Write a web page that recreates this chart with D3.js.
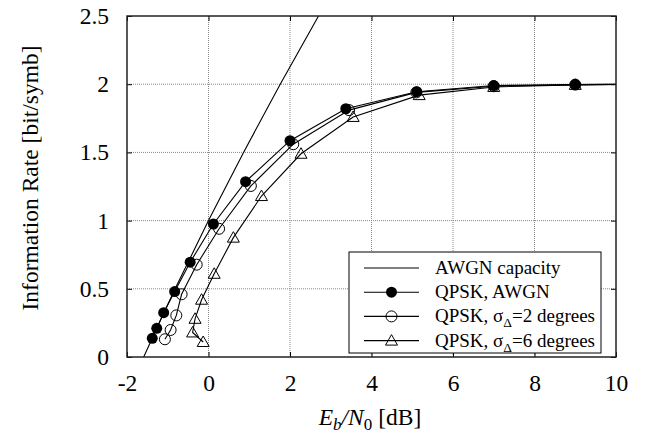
<!DOCTYPE html>
<html>
<head>
<meta charset="utf-8">
<script src="https://cdn.jsdelivr.net/npm/d3@7"></script>
<style>
    body { margin: 0; background: #fff; }
    svg { display: block; font-family: 'Liberation Serif', 'Times New Roman', serif; }
</style>
</head>
<body>
<div id="chart"></div>
<script>
// values
const capacityEb = [-1.59, -1.21, -0.82, -0.41, 0, 0.86, 1.76, 2.70];
const capacityRate = [0, 0.25, 0.5, 0.75, 1, 1.5, 2, 2.5];

const awgnEb = [-1.38, -1.27, -1.1, -0.83, -0.45, 0.12, 0.91, 2.0, 3.37, 5.11, 7.0, 9.0, 11];
const awgnRate = [0.137, 0.21, 0.325, 0.48, 0.695, 0.975, 1.285, 1.586, 1.82, 1.945, 1.99, 1.997, 2.0];

const sig2Eb = [-1.07, -0.93, -0.79, -0.66, -0.29, 0.26, 1.04, 2.08, 3.45, 5.1, 7.0, 9.0, 11];
const sig2Rate = [0.13, 0.198, 0.305, 0.46, 0.677, 0.94, 1.254, 1.56, 1.81, 1.94, 1.985, 1.997, 2.0];

const sig6Eb = [-0.13, -0.39, -0.33, -0.17, 0.14, 0.61, 1.3, 2.27, 3.55, 5.17, 7.0, 9.0, 11];
const sig6Rate = [0.11, 0.18, 0.28, 0.42, 0.61, 0.875, 1.18, 1.49, 1.76, 1.92, 1.98, 1.995, 2.0];

const xTicks = [-2, 0, 2, 4, 6, 8, 10];
const yTicks = [0, 0.5, 1, 1.5, 2, 2.5];

const width = 650;
const height = 433;
const margin = { top: 16, right: 34, bottom: 76, left: 127 };
const chartWidth = width - margin.left - margin.right;
const chartHeight = height - margin.top - margin.bottom;

const svg = d3.select('#chart').append('svg').attr('width', width).attr('height', height);
const chart = svg.append('g').attr('transform', `translate(${margin.left}, ${margin.top})`);

const xScale = d3.scaleLinear().domain([-2, 10]).range([0, chartWidth]);
const yScale = d3.scaleLinear().domain([0, 2.5]).range([chartHeight, 0]);

svg.append('defs').append('clipPath').attr('id', 'plot-clip')
    .append('rect').attr('width', chartWidth).attr('height', chartHeight);

// dotted grid
chart.append('g').selectAll('line').data(xTicks.slice(1, -1)).enter().append('line')
    .attr('x1', (d) => xScale(d)).attr('x2', (d) => xScale(d))
    .attr('y1', 0).attr('y2', chartHeight)
    .attr('stroke', '#888').attr('stroke-width', 1).attr('stroke-dasharray', '1,1');
chart.append('g').selectAll('line').data(yTicks.slice(1, -1)).enter().append('line')
    .attr('y1', (d) => yScale(d)).attr('y2', (d) => yScale(d))
    .attr('x1', 0).attr('x2', chartWidth)
    .attr('stroke', '#888').attr('stroke-width', 1).attr('stroke-dasharray', '1,1');

// axes, ticks pointing inward on all four sides
const tickFont = (g) => g.selectAll('text').attr('font-size', 23.5).attr('fill', '#000')
    .attr('font-family', "'Liberation Serif', serif");
const cleanAxis = (g) => g.select('.domain').remove();

chart.append('g').attr('transform', `translate(0, ${chartHeight})`)
    .call(d3.axisBottom(xScale).tickValues(xTicks).tickFormat((d) => String(d)).tickSizeInner(-5).tickPadding(17))
    .call(cleanAxis).call(tickFont);
chart.append('g')
    .call(d3.axisTop(xScale).tickValues(xTicks).tickFormat('').tickSizeInner(-5))
    .call(cleanAxis);
chart.append('g')
    .call(d3.axisLeft(yScale).tickValues(yTicks).tickFormat((d) => String(d)).tickSizeInner(-5).tickPadding(18))
    .call(cleanAxis).call(tickFont);
chart.append('g').attr('transform', `translate(${chartWidth}, 0)`)
    .call(d3.axisRight(yScale).tickValues(yTicks).tickFormat('').tickSizeInner(-5))
    .call(cleanAxis);

// curves
const plot = chart.append('g').attr('clip-path', 'url(#plot-clip)');
const line = d3.line().x((d) => xScale(d[0])).y((d) => yScale(d[1]));

const series = [
    { eb: capacityEb, rate: capacityRate, marker: null, label: ['AWGN capacity'] },
    { eb: awgnEb, rate: awgnRate, marker: 'filled', label: ['QPSK, AWGN'] },
    { eb: sig2Eb, rate: sig2Rate, marker: 'circle', label: ['QPSK, σ', 'Δ', '=2 degrees'] },
    { eb: sig6Eb, rate: sig6Rate, marker: 'triangle', label: ['QPSK, σ', 'Δ', '=6 degrees'] }
];

function drawMarker(g, type, x, y) {
    if (type === 'filled') {
        g.append('circle').attr('cx', x).attr('cy', y).attr('r', 5.5).attr('fill', '#000');
    } else if (type === 'circle') {
        g.append('circle').attr('cx', x).attr('cy', y).attr('r', 5.5)
            .attr('fill', 'none').attr('stroke', '#000').attr('stroke-width', 1);
    } else if (type === 'triangle') {
        g.append('path')
            .attr('d', `M${x},${y - 6}L${x + 6},${y + 4.5}L${x - 6},${y + 4.5}Z`)
            .attr('fill', 'none').attr('stroke', '#000').attr('stroke-width', 1);
    }
}

for (let s of series) {
    const pts = s.eb.map((e, i) => [e, s.rate[i]]);
    plot.append('path').datum(pts).attr('d', line)
        .attr('fill', 'none').attr('stroke', '#000').attr('stroke-width', 1.1);
    if (s.marker) {
        for (let p of pts) drawMarker(plot, s.marker, xScale(p[0]), yScale(p[1]));
    }
}

// frame
chart.append('rect').attr('width', chartWidth).attr('height', chartHeight)
    .attr('fill', 'none').attr('stroke', '#222').attr('stroke-width', 1.5);

// legend
const legend = chart.append('g').attr('transform', `translate(${349 - margin.left}, ${252 - margin.top})`);
legend.append('rect').attr('width', 252).attr('height', 101)
    .attr('fill', '#fff').attr('stroke', '#000').attr('stroke-width', 1);

series.forEach((s, i) => {
    const y = 16 + i * 24.2;
    legend.append('line').attr('x1', 15).attr('x2', 70).attr('y1', y).attr('y2', y)
        .attr('stroke', '#000').attr('stroke-width', 1.1);
    if (s.marker) drawMarker(legend, s.marker, 42.5, y);
    const t = legend.append('text').attr('x', 86).attr('y', y + 6).attr('font-size', 19);
    t.append('tspan').text(s.label[0]);
    if (s.label.length > 1) {
        t.append('tspan').attr('dy', 5).attr('font-size', 13.5).text(s.label[1]);
        t.append('tspan').attr('dy', -5).text(s.label[2]);
    }
});

// axis titles
const xTitle = svg.append('text').attr('x', 370).attr('y', 425).attr('text-anchor', 'middle').attr('font-size', 23.5);
xTitle.append('tspan').attr('font-style', 'italic').text('E');
xTitle.append('tspan').attr('font-style', 'italic').attr('font-size', 17).attr('dy', 5).text('b');
xTitle.append('tspan').attr('font-style', 'italic').attr('dy', -5).text('/N');
xTitle.append('tspan').attr('font-size', 17).attr('dy', 5).text('0');
xTitle.append('tspan').attr('dy', -5).text(' [dB]');

svg.append('text').attr('transform', 'translate(38, 178) rotate(-90)')
    .attr('text-anchor', 'middle').attr('font-size', 23.5)
    .text('Information Rate [bit/symb]');
</script>
</body>
</html>
